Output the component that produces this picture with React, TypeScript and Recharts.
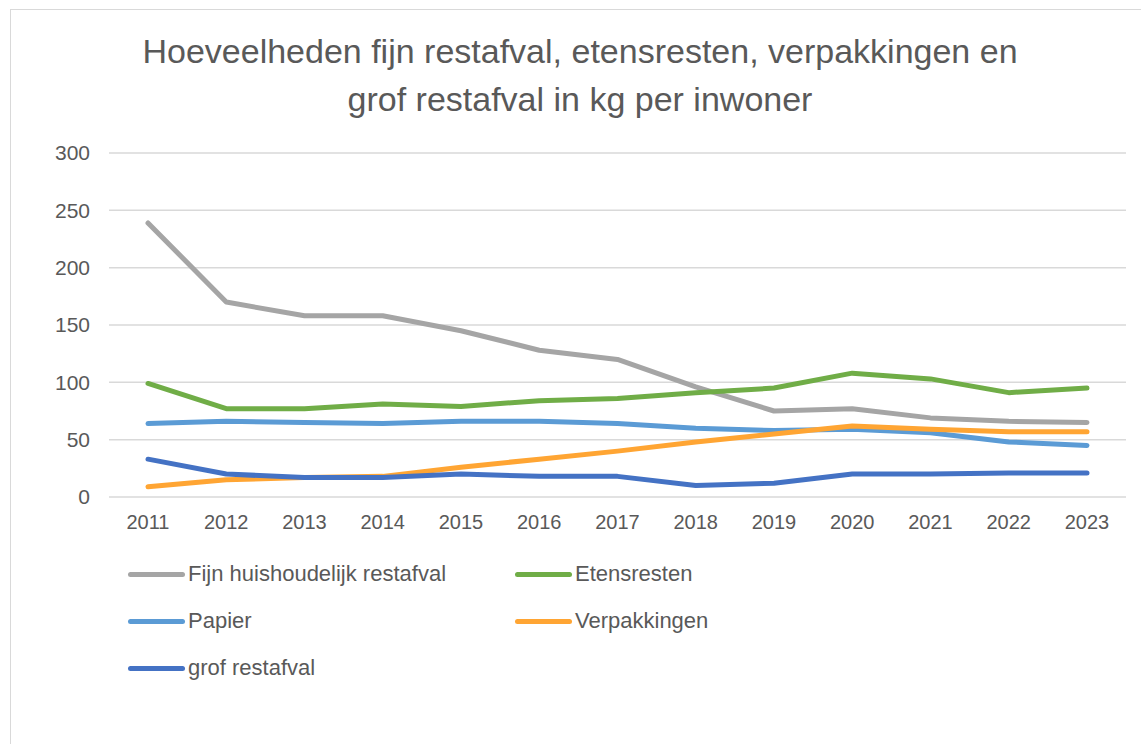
import React from 'react';
import { LineChart, Line, XAxis, YAxis, CartesianGrid } from 'recharts';

const years = ['2011', '2012', '2013', '2014', '2015', '2016', '2017', '2018', '2019', '2020', '2021', '2022', '2023'];
const fijnRestafval = [239, 170, 158, 158, 145, 128, 120, 96, 75, 77, 69, 66, 65];
const etensresten = [99, 77, 77, 81, 79, 84, 86, 91, 95, 108, 103, 91, 95];
const papier = [64, 66, 65, 64, 66, 66, 64, 60, 58, 59, 56, 48, 45];
const verpakkingen = [9, 15, 17, 18, 26, 33, 40, 48, 55, 62, 59, 57, 57];
const grofRestafval = [33, 20, 17, 17, 20, 18, 18, 10, 12, 20, 20, 21, 21];
const yTicks = [0, 50, 100, 150, 200, 250, 300];

const series = [
  { key: 'fijn', name: 'Fijn huishoudelijk restafval', color: '#A5A5A5', values: fijnRestafval },
  { key: 'etens', name: 'Etensresten', color: '#70AD47', values: etensresten },
  { key: 'papier', name: 'Papier', color: '#5B9BD5', values: papier },
  { key: 'verp', name: 'Verpakkingen', color: '#FFA533', values: verpakkingen },
  { key: 'grof', name: 'grof restafval', color: '#4472C4', values: grofRestafval },
];

const chartData = years.map((year, i) => {
  const row: Record<string, string | number> = { year };
  series.forEach(s => { row[s.key] = s.values[i]; });
  return row;
});

const FONT = '"Liberation Sans", Arial, sans-serif';
const TEXT = '#595959';

const App: React.FC = () => {
  return (
    <div style={{ position: 'absolute', left: 0, top: 0, width: 1141, height: 744, overflow: 'hidden', background: '#fff', fontFamily: FONT }}>
      <div style={{
        position: 'absolute', left: 10, top: 9, width: 1200, height: 800,
        border: '1px solid #D9D9D9'
      }} />
      <div style={{
        position: 'absolute', left: 0, top: 27, width: 1160, textAlign: 'center',
        fontSize: 34, lineHeight: '48px', color: TEXT
      }}>
        Hoeveelheden fijn restafval, etensresten, verpakkingen en<br />
        grof restafval in kg per inwoner
      </div>

      <div style={{ position: 'absolute', left: 0, top: 0 }}>
        <LineChart width={1141} height={744} data={chartData}
          margin={{ top: 153, right: 15, left: 49, bottom: 217 }}>
          <CartesianGrid vertical={false} stroke="#D9D9D9" strokeWidth={1.5} />
          <XAxis
            dataKey="year"
            axisLine={false}
            tickLine={false}
            padding={{ left: 39, right: 39 }}
            tick={{ fill: TEXT, fontSize: 20, fontFamily: FONT }}
            tickMargin={12}
            height={30}
          />
          <YAxis
            domain={[0, 300]}
            ticks={yTicks}
            axisLine={false}
            tickLine={false}
            width={60}
            tick={{ fill: TEXT, fontSize: 21, fontFamily: FONT }}
            tickMargin={13}
          />
          {series.map(s => (
            <Line
              key={s.key}
              type="linear"
              dataKey={s.key}
              name={s.name}
              stroke={s.color}
              strokeWidth={5}
              strokeLinecap="round"
              strokeLinejoin="round"
              dot={false}
              activeDot={false}
              isAnimationActive={false}
            />
          ))}
        </LineChart>
      </div>

      {/* legend, two columns like the original */}
      {series.map((s, i) => (
        <div key={s.key} style={{
          position: 'absolute',
          left: i % 2 === 0 ? 128 : 515,
          top: 574 + Math.floor(i / 2) * 47 - 14,
          height: 28,
          display: 'flex', alignItems: 'center',
          fontSize: 22, color: TEXT
        }}>
          <span style={{ display: 'inline-block', width: 57, height: 5, borderRadius: 3, background: s.color, marginRight: 3 }} />
          {s.name}
        </div>
      ))}
    </div>
  );
};

export default App;
